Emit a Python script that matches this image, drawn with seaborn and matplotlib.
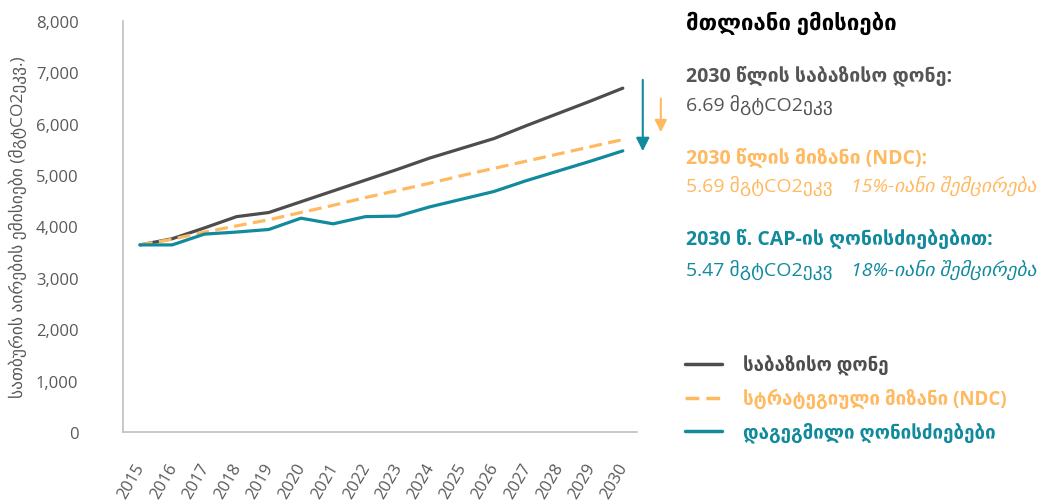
import numpy as np
import pandas as pd
import matplotlib
matplotlib.use("Agg")
import matplotlib.pyplot as plt
from matplotlib.ticker import FuncFormatter
from matplotlib.transforms import ScaledTranslation
import seaborn as sns

# values
years = list(range(2015, 2031))
baseline = [3640, 3760, 3970, 4190, 4270, 4480, 4690, 4900, 5110, 5330, 5520, 5710, 5960, 6200, 6440, 6690]
ndc = [3640, 3750, 3890, 4010, 4130, 4270, 4410, 4560, 4700, 4840, 4990, 5130, 5270, 5410, 5550, 5690]
cap = [3640, 3640, 3850, 3890, 3940, 4160, 4050, 4190, 4200, 4380, 4530, 4680, 4890, 5080, 5270, 5470]

series_names = ["საბაზისო დონე", "სტრატეგიული მიზანი (NDC)", "დაგეგმილი ღონისძიებები"]
colors = ["#4d4d4d", "#ffb960", "#128a9e"]
ylabel = "სათბურის აირების ემისიები (მგტCO2ეკვ.)"
title = "მთლიანი ემისიები"

# long form table for seaborn
df = pd.DataFrame({
    "year": years * 3,
    "value": baseline + ndc + cap,
    "series": [series_names[0]] * 16 + [series_names[1]] * 16 + [series_names[2]] * 16,
})

sns.set_theme(style="white")
plt.rcParams["font.family"] = ["Open Sans", "DejaVu Sans"]

fig = plt.figure(figsize=(10.42, 5.02), dpi=100)
ax = fig.add_axes([0.118, 0.1375, 0.493, 0.819])

sns.lineplot(data=df, x="year", y="value", hue="series", style="series",
             palette=dict(zip(series_names, colors)),
             dashes={series_names[0]: "", series_names[1]: (4, 2), series_names[2]: ""},
             linewidth=2.3, ax=ax)

ax.set_xlim(2014.47, 2030.43)
ax.set_ylim(0, 8000)
ax.set_xticks(years)
ax.set_yticks(range(0, 8001, 1000))
ax.yaxis.set_major_formatter(FuncFormatter(lambda v, p: f"{int(v):,}"))
ax.tick_params(axis="y", length=0, pad=32, labelsize=12, labelcolor="#595959")
ax.tick_params(axis="x", length=0, pad=20, labelsize=12, labelcolor="#595959")
shift = ScaledTranslation(0.08, 0, fig.dpi_scale_trans)
for lab in ax.get_xticklabels():
    lab.set_rotation(60)
    lab.set_ha("right")
    lab.set_transform(lab.get_transform() + shift)
ax.set_xlabel("")
ax.set_ylabel(ylabel, fontsize=12.5, color="#595959", labelpad=6)
for s in ["top", "right"]:
    ax.spines[s].set_visible(False)
for s in ["left", "bottom"]:
    ax.spines[s].set_color("#bfbfbf")
    ax.spines[s].set_linewidth(1.2)

# arrows showing reductions
ax.annotate("", xy=(2030.62, 5410), xytext=(2030.62, 6905), annotation_clip=False,
            arrowprops=dict(arrowstyle="-|>", color=colors[2], lw=1.5, mutation_scale=20))
ax.annotate("", xy=(2031.18, 5780), xytext=(2031.18, 6540), annotation_clip=False,
            arrowprops=dict(arrowstyle="-|>", color=colors[1], lw=1.5, mutation_scale=18))

# legend with coloured labels
handles, labels = ax.get_legend_handles_labels()
leg = ax.legend(handles, labels, loc="center left", bbox_to_anchor=(0.648, 0.203),
                bbox_transform=fig.transFigure, frameon=False, fontsize=13.5,
                handlelength=2.0, handletextpad=1.1, labelspacing=0.7, borderpad=0)
for t, c in zip(leg.get_texts(), colors):
    t.set_color(c)
    t.set_fontweight("bold")
for h in leg.get_lines():
    h.set_linewidth(2.5)

# text panel on the right
def ftxt(x, y, s, **kw):
    fig.text(x / 1042, 1 - y / 502, s, va="center", ha="left", **kw)

ftxt(686, 23, title, fontsize=16, fontweight="bold", color="black")
ftxt(686, 77, "2030 წლის საბაზისო დონე:", fontsize=14, fontweight="bold", color="#555555")
ftxt(686, 105, "6.69 მგტCO2ეკვ", fontsize=14, color="#555555")
ftxt(686, 158, "2030 წლის მიზანი (NDC):", fontsize=14, fontweight="bold", color=colors[1])
ftxt(686, 186, "5.69 მგტCO2ეკვ", fontsize=14, color=colors[1])
ftxt(851, 186, "15%-იანი შემცირება", fontsize=14, style="italic", color=colors[1])
ftxt(686, 241, "2030 წ. CAP-ის ღონისძიებებით:", fontsize=14, fontweight="bold", color=colors[2])
ftxt(686, 270, "5.47 მგტCO2ეკვ", fontsize=14, color=colors[2])
ftxt(851, 270, "18%-იანი შემცირება", fontsize=14, style="italic", color=colors[2])

plt.savefig("out.png", dpi=100)
